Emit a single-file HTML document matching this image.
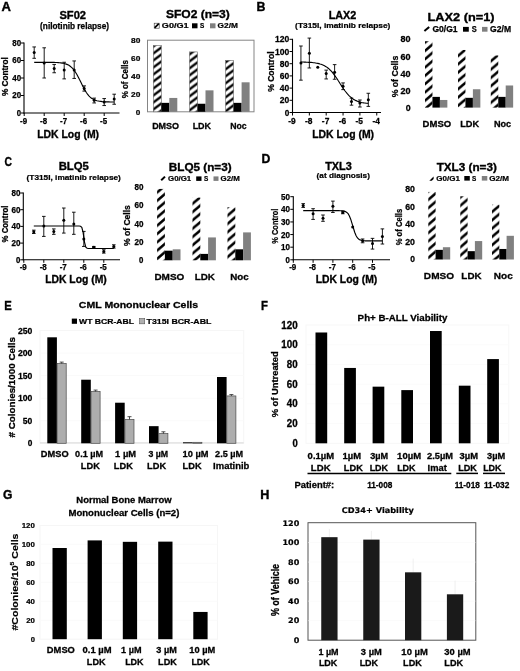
<!DOCTYPE html>
<html><head><meta charset="utf-8"><title>Figure</title>
<style>html,body{margin:0;padding:0;background:#fff}svg{display:block}text{font-family:"Liberation Sans",Arial,sans-serif;font-weight:bold;fill:#000}</style>
</head><body>
<svg width="520" height="671" viewBox="0 0 520 671">
<rect width="520" height="671" fill="#fff"/>
<defs><pattern id="h1" patternUnits="userSpaceOnUse" width="9.333" height="7.000" x="153.3" y="4.5"><rect width="9.333" height="7.000" fill="#fff"/><path d="M-9.33 7.00 L18.67 -14.00 M-9.33 14.00 L18.67 -7.00 M-9.33 21.00 L18.67 0.00 M-9.33 28.00 L18.67 7.00" stroke="#000" stroke-width="2.32"/></pattern><pattern id="hB" patternUnits="userSpaceOnUse" width="9.765" height="8.300" x="425" y="1.0"><rect width="9.765" height="8.300" fill="#fff"/><path d="M-9.76 8.30 L19.53 -16.60 M-9.76 16.60 L19.53 -8.30 M-9.76 24.90 L19.53 0.00 M-9.76 33.20 L19.53 8.30" stroke="#000" stroke-width="2.59"/></pattern><pattern id="hC" patternUnits="userSpaceOnUse" width="9.765" height="8.300" x="157.1" y="1.5"><rect width="9.765" height="8.300" fill="#fff"/><path d="M-9.76 8.30 L19.53 -16.60 M-9.76 16.60 L19.53 -8.30 M-9.76 24.90 L19.53 0.00 M-9.76 33.20 L19.53 8.30" stroke="#000" stroke-width="2.59"/></pattern><pattern id="hD" patternUnits="userSpaceOnUse" width="9.765" height="8.300" x="428.3" y="0.5"><rect width="9.765" height="8.300" fill="#fff"/><path d="M-9.76 8.30 L19.53 -16.60 M-9.76 16.60 L19.53 -8.30 M-9.76 24.90 L19.53 0.00 M-9.76 33.20 L19.53 8.30" stroke="#000" stroke-width="2.59"/></pattern></defs>
<text x="1.40" y="10.70" font-size="13.3" textLength="9.43" lengthAdjust="spacingAndGlyphs" stroke="#000" stroke-width="0.4">A</text>
<text x="59.42" y="19.25" font-size="11.2" textLength="26.66" lengthAdjust="spacingAndGlyphs" stroke="#000" stroke-width="0.34">SF02</text>
<text x="40.12" y="28.90" font-size="8.4" textLength="68.99" lengthAdjust="spacingAndGlyphs" stroke="#000" stroke-width="0.25">(nilotinib relapse)</text>
<text transform="translate(8.20 96.12) rotate(-90)" x="-0.00" y="0" font-size="8.6" textLength="39.00" lengthAdjust="spacingAndGlyphs" stroke="#000" stroke-width="0.26">% Control</text>
<line x1="24.00" y1="42.50" x2="24.00" y2="113.50" stroke="#000" stroke-width="1.1"/>
<line x1="23.50" y1="113.00" x2="119.50" y2="113.00" stroke="#000" stroke-width="1.1"/>
<line x1="21.00" y1="113.00" x2="24.00" y2="113.00" stroke="#000" stroke-width="1"/>
<text x="16.82" y="115.94" font-size="8.2" textLength="4.31" lengthAdjust="spacingAndGlyphs" stroke="#000" stroke-width="0.25">0</text>
<line x1="21.00" y1="95.50" x2="24.00" y2="95.50" stroke="#000" stroke-width="1"/>
<text x="12.27" y="98.44" font-size="8.2" textLength="8.87" lengthAdjust="spacingAndGlyphs" stroke="#000" stroke-width="0.25">20</text>
<line x1="21.00" y1="78.00" x2="24.00" y2="78.00" stroke="#000" stroke-width="1"/>
<text x="12.27" y="80.94" font-size="8.2" textLength="8.87" lengthAdjust="spacingAndGlyphs" stroke="#000" stroke-width="0.25">40</text>
<line x1="21.00" y1="60.50" x2="24.00" y2="60.50" stroke="#000" stroke-width="1"/>
<text x="12.27" y="63.44" font-size="8.2" textLength="8.87" lengthAdjust="spacingAndGlyphs" stroke="#000" stroke-width="0.25">60</text>
<line x1="21.00" y1="43.00" x2="24.00" y2="43.00" stroke="#000" stroke-width="1"/>
<text x="12.27" y="45.94" font-size="8.2" textLength="8.87" lengthAdjust="spacingAndGlyphs" stroke="#000" stroke-width="0.25">80</text>
<line x1="24.20" y1="113.00" x2="24.20" y2="116.00" stroke="#000" stroke-width="1"/>
<text x="20.08" y="124.10" font-size="8.2" textLength="7.04" lengthAdjust="spacingAndGlyphs" stroke="#000" stroke-width="0.25">-9</text>
<line x1="44.20" y1="113.00" x2="44.20" y2="116.00" stroke="#000" stroke-width="1"/>
<text x="40.08" y="124.10" font-size="8.2" textLength="7.04" lengthAdjust="spacingAndGlyphs" stroke="#000" stroke-width="0.25">-8</text>
<line x1="64.20" y1="113.00" x2="64.20" y2="116.00" stroke="#000" stroke-width="1"/>
<text x="60.08" y="124.10" font-size="8.2" textLength="7.04" lengthAdjust="spacingAndGlyphs" stroke="#000" stroke-width="0.25">-7</text>
<line x1="84.20" y1="113.00" x2="84.20" y2="116.00" stroke="#000" stroke-width="1"/>
<text x="80.08" y="124.10" font-size="8.2" textLength="7.04" lengthAdjust="spacingAndGlyphs" stroke="#000" stroke-width="0.25">-6</text>
<line x1="104.20" y1="113.00" x2="104.20" y2="116.00" stroke="#000" stroke-width="1"/>
<text x="100.08" y="124.10" font-size="8.2" textLength="7.04" lengthAdjust="spacingAndGlyphs" stroke="#000" stroke-width="0.25">-5</text>
<path d="M34.2 62.3 L35.5 62.3 L36.9 62.3 L38.2 62.3 L39.5 62.3 L40.9 62.3 L42.2 62.3 L43.5 62.3 L44.9 62.3 L46.2 62.3 L47.5 62.3 L48.9 62.3 L50.2 62.3 L51.5 62.3 L52.9 62.4 L54.2 62.4 L55.5 62.5 L56.9 62.5 L58.2 62.6 L59.5 62.7 L60.9 62.9 L62.2 63.1 L63.5 63.3 L64.9 63.7 L66.2 64.1 L67.5 64.6 L68.9 65.3 L70.2 66.2 L71.5 67.3 L72.9 68.7 L74.2 70.3 L75.5 72.3 L76.9 74.5 L78.2 76.9 L79.5 79.6 L80.9 82.3 L82.2 85.0 L83.5 87.6 L84.9 90.1 L86.2 92.3 L87.5 94.2 L88.9 95.8 L90.2 97.1 L91.5 98.2 L92.9 99.0 L94.2 99.7 L95.5 100.3 L96.9 100.7 L98.2 101.0 L99.5 101.3 L100.9 101.4 L102.2 101.6 L103.5 101.7 L104.9 101.8 L106.2 101.9 L107.5 101.9 L108.9 101.9 L110.2 102.0 L111.5 102.0 L112.9 102.0 L114.2 102.0" fill="none" stroke="#000" stroke-width="1.15"/>
<line x1="34.20" y1="46.94" x2="34.20" y2="58.31" stroke="#000" stroke-width="0.9"/>
<line x1="32.40" y1="46.94" x2="36.00" y2="46.94" stroke="#000" stroke-width="0.9"/>
<line x1="32.40" y1="58.31" x2="36.00" y2="58.31" stroke="#000" stroke-width="0.9"/>
<circle cx="34.20" cy="52.62" r="1.5" fill="#000"/>
<line x1="44.20" y1="47.81" x2="44.20" y2="78.00" stroke="#000" stroke-width="0.9"/>
<line x1="42.40" y1="47.81" x2="46.00" y2="47.81" stroke="#000" stroke-width="0.9"/>
<line x1="42.40" y1="78.00" x2="46.00" y2="78.00" stroke="#000" stroke-width="0.9"/>
<circle cx="44.20" cy="63.12" r="1.5" fill="#000"/>
<line x1="54.20" y1="64.44" x2="54.20" y2="72.75" stroke="#000" stroke-width="0.9"/>
<line x1="52.40" y1="64.44" x2="56.00" y2="64.44" stroke="#000" stroke-width="0.9"/>
<line x1="52.40" y1="72.75" x2="56.00" y2="72.75" stroke="#000" stroke-width="0.9"/>
<circle cx="54.20" cy="68.38" r="1.5" fill="#000"/>
<line x1="64.20" y1="62.25" x2="64.20" y2="78.88" stroke="#000" stroke-width="0.9"/>
<line x1="62.40" y1="62.25" x2="66.00" y2="62.25" stroke="#000" stroke-width="0.9"/>
<line x1="62.40" y1="78.88" x2="66.00" y2="78.88" stroke="#000" stroke-width="0.9"/>
<circle cx="64.20" cy="70.12" r="1.5" fill="#000"/>
<line x1="74.20" y1="60.94" x2="74.20" y2="78.44" stroke="#000" stroke-width="0.9"/>
<line x1="72.40" y1="60.94" x2="76.00" y2="60.94" stroke="#000" stroke-width="0.9"/>
<line x1="72.40" y1="78.44" x2="76.00" y2="78.44" stroke="#000" stroke-width="0.9"/>
<circle cx="74.20" cy="70.12" r="1.5" fill="#000"/>
<line x1="84.20" y1="85.88" x2="84.20" y2="91.12" stroke="#000" stroke-width="0.9"/>
<line x1="82.40" y1="85.88" x2="86.00" y2="85.88" stroke="#000" stroke-width="0.9"/>
<line x1="82.40" y1="91.12" x2="86.00" y2="91.12" stroke="#000" stroke-width="0.9"/>
<circle cx="84.20" cy="88.50" r="1.5" fill="#000"/>
<line x1="94.20" y1="98.12" x2="94.20" y2="102.94" stroke="#000" stroke-width="0.9"/>
<line x1="92.40" y1="98.12" x2="96.00" y2="98.12" stroke="#000" stroke-width="0.9"/>
<line x1="92.40" y1="102.94" x2="96.00" y2="102.94" stroke="#000" stroke-width="0.9"/>
<circle cx="94.20" cy="100.31" r="1.5" fill="#000"/>
<line x1="104.20" y1="98.56" x2="104.20" y2="105.56" stroke="#000" stroke-width="0.9"/>
<line x1="102.40" y1="98.56" x2="106.00" y2="98.56" stroke="#000" stroke-width="0.9"/>
<line x1="102.40" y1="105.56" x2="106.00" y2="105.56" stroke="#000" stroke-width="0.9"/>
<circle cx="104.20" cy="102.06" r="1.5" fill="#000"/>
<line x1="114.20" y1="94.19" x2="114.20" y2="104.25" stroke="#000" stroke-width="0.9"/>
<line x1="112.40" y1="94.19" x2="116.00" y2="94.19" stroke="#000" stroke-width="0.9"/>
<line x1="112.40" y1="104.25" x2="116.00" y2="104.25" stroke="#000" stroke-width="0.9"/>
<circle cx="114.20" cy="99.00" r="1.5" fill="#000"/>
<text x="37.16" y="137.50" font-size="10.8" textLength="61.90" lengthAdjust="spacingAndGlyphs" stroke="#000" stroke-width="0.32">LDK Log (M)</text>
<text x="165.92" y="18.00" font-size="11.5" textLength="63.93" lengthAdjust="spacingAndGlyphs" stroke="#000" stroke-width="0.34">SFO2 (n=3)</text>
<g><rect x="154.2" y="23.2" width="5" height="5" fill="#fff" stroke="#333" stroke-width="0.6"/><path d="M154.6 27.8 L158.8 23.6" stroke="#000" stroke-width="1.8"/></g>
<text x="161.87" y="28.40" font-size="7.9" textLength="26.77" lengthAdjust="spacingAndGlyphs" stroke="#000" stroke-width="0.24">G0/G1</text>
<rect x="192.00" y="23.30" width="5.50" height="5.00" fill="#000"/>
<text x="200.12" y="28.40" font-size="7.9" textLength="4.27" lengthAdjust="spacingAndGlyphs" stroke="#000" stroke-width="0.24">S</text>
<rect x="210.00" y="23.30" width="5.50" height="5.00" fill="#808080"/>
<text x="217.62" y="28.40" font-size="7.9" textLength="20.26" lengthAdjust="spacingAndGlyphs" stroke="#000" stroke-width="0.24">G2/M</text>
<text transform="translate(128.20 98.37) rotate(-90)" x="-0.00" y="0" font-size="8.6" textLength="38.23" lengthAdjust="spacingAndGlyphs" stroke="#000" stroke-width="0.26">% of Cells</text>
<rect x="147.50" y="40.20" width="106.50" height="71.60" fill="none" stroke="#858585" stroke-width="1"/>
<rect x="153.30" y="45.64" width="8.00" height="66.16" fill="url(#h1)" stroke="#666" stroke-width="0.6"/>
<rect x="161.30" y="102.86" width="8.00" height="8.94" fill="#000"/>
<rect x="169.30" y="97.94" width="8.00" height="13.86" fill="#808080"/>
<rect x="189.50" y="51.90" width="8.00" height="59.90" fill="url(#h1)" stroke="#666" stroke-width="0.6"/>
<rect x="197.50" y="103.75" width="8.00" height="8.05" fill="#000"/>
<rect x="205.50" y="90.34" width="8.00" height="21.46" fill="#808080"/>
<rect x="225.60" y="60.39" width="8.00" height="51.41" fill="url(#h1)" stroke="#666" stroke-width="0.6"/>
<rect x="233.60" y="102.86" width="8.00" height="8.94" fill="#000"/>
<rect x="241.60" y="82.30" width="8.00" height="29.50" fill="#808080"/>
<text x="135.85" y="114.59" font-size="7.8" textLength="4.54" lengthAdjust="spacingAndGlyphs" stroke="#000" stroke-width="0.23">0</text>
<text x="131.09" y="96.71" font-size="7.8" textLength="9.31" lengthAdjust="spacingAndGlyphs" stroke="#000" stroke-width="0.23">20</text>
<text x="131.09" y="78.83" font-size="7.8" textLength="9.31" lengthAdjust="spacingAndGlyphs" stroke="#000" stroke-width="0.23">40</text>
<text x="131.09" y="60.95" font-size="7.8" textLength="9.31" lengthAdjust="spacingAndGlyphs" stroke="#000" stroke-width="0.23">60</text>
<text x="131.09" y="43.07" font-size="7.8" textLength="9.31" lengthAdjust="spacingAndGlyphs" stroke="#000" stroke-width="0.23">80</text>
<text x="152.13" y="129.20" font-size="9" textLength="26.98" lengthAdjust="spacingAndGlyphs" stroke="#000" stroke-width="0.27">DMSO</text>
<text x="192.63" y="129.20" font-size="9" textLength="18.48" lengthAdjust="spacingAndGlyphs" stroke="#000" stroke-width="0.27">LDK</text>
<text x="230.13" y="129.20" font-size="9" textLength="16.47" lengthAdjust="spacingAndGlyphs" stroke="#000" stroke-width="0.27">Noc</text>
<text x="256.39" y="10.70" font-size="13" textLength="8.94" lengthAdjust="spacingAndGlyphs" stroke="#000" stroke-width="0.39">B</text>
<text x="328.67" y="18.80" font-size="11.2" textLength="27.67" lengthAdjust="spacingAndGlyphs" stroke="#000" stroke-width="0.34">LAX2</text>
<text x="295.12" y="27.50" font-size="8" textLength="95.24" lengthAdjust="spacingAndGlyphs" stroke="#000" stroke-width="0.24">(T315I, imatinib relapse)</text>
<text transform="translate(274.40 91.87) rotate(-90)" x="-0.00" y="0" font-size="8.6" textLength="40.55" lengthAdjust="spacingAndGlyphs" stroke="#000" stroke-width="0.26">% Control</text>
<line x1="292.50" y1="38.80" x2="292.50" y2="113.00" stroke="#000" stroke-width="1.1"/>
<line x1="292.00" y1="112.50" x2="381.00" y2="112.50" stroke="#000" stroke-width="1.1"/>
<line x1="289.50" y1="112.50" x2="292.50" y2="112.50" stroke="#000" stroke-width="1"/>
<text x="284.70" y="115.61" font-size="8.7" textLength="4.58" lengthAdjust="spacingAndGlyphs" stroke="#000" stroke-width="0.26">0</text>
<line x1="289.50" y1="100.30" x2="292.50" y2="100.30" stroke="#000" stroke-width="1"/>
<text x="279.87" y="103.41" font-size="8.7" textLength="9.42" lengthAdjust="spacingAndGlyphs" stroke="#000" stroke-width="0.26">20</text>
<line x1="289.50" y1="88.10" x2="292.50" y2="88.10" stroke="#000" stroke-width="1"/>
<text x="279.87" y="91.21" font-size="8.7" textLength="9.42" lengthAdjust="spacingAndGlyphs" stroke="#000" stroke-width="0.26">40</text>
<line x1="289.50" y1="75.90" x2="292.50" y2="75.90" stroke="#000" stroke-width="1"/>
<text x="279.87" y="79.01" font-size="8.7" textLength="9.42" lengthAdjust="spacingAndGlyphs" stroke="#000" stroke-width="0.26">60</text>
<line x1="289.50" y1="63.70" x2="292.50" y2="63.70" stroke="#000" stroke-width="1"/>
<text x="279.87" y="66.81" font-size="8.7" textLength="9.42" lengthAdjust="spacingAndGlyphs" stroke="#000" stroke-width="0.26">80</text>
<line x1="289.50" y1="51.50" x2="292.50" y2="51.50" stroke="#000" stroke-width="1"/>
<text x="275.00" y="54.61" font-size="8.7" textLength="14.26" lengthAdjust="spacingAndGlyphs" stroke="#000" stroke-width="0.26">100</text>
<line x1="289.50" y1="39.30" x2="292.50" y2="39.30" stroke="#000" stroke-width="1"/>
<text x="275.00" y="42.41" font-size="8.7" textLength="14.26" lengthAdjust="spacingAndGlyphs" stroke="#000" stroke-width="0.26">120</text>
<line x1="292.50" y1="112.50" x2="292.50" y2="115.50" stroke="#000" stroke-width="1"/>
<text x="288.16" y="124.00" font-size="8.7" textLength="7.48" lengthAdjust="spacingAndGlyphs" stroke="#000" stroke-width="0.26">-9</text>
<line x1="309.35" y1="112.50" x2="309.35" y2="115.50" stroke="#000" stroke-width="1"/>
<text x="305.01" y="124.00" font-size="8.7" textLength="7.48" lengthAdjust="spacingAndGlyphs" stroke="#000" stroke-width="0.26">-8</text>
<line x1="326.20" y1="112.50" x2="326.20" y2="115.50" stroke="#000" stroke-width="1"/>
<text x="321.86" y="124.00" font-size="8.7" textLength="7.48" lengthAdjust="spacingAndGlyphs" stroke="#000" stroke-width="0.26">-7</text>
<line x1="343.05" y1="112.50" x2="343.05" y2="115.50" stroke="#000" stroke-width="1"/>
<text x="338.71" y="124.00" font-size="8.7" textLength="7.48" lengthAdjust="spacingAndGlyphs" stroke="#000" stroke-width="0.26">-6</text>
<line x1="359.90" y1="112.50" x2="359.90" y2="115.50" stroke="#000" stroke-width="1"/>
<text x="355.56" y="124.00" font-size="8.7" textLength="7.48" lengthAdjust="spacingAndGlyphs" stroke="#000" stroke-width="0.26">-5</text>
<line x1="376.75" y1="112.50" x2="376.75" y2="115.50" stroke="#000" stroke-width="1"/>
<text x="372.41" y="124.00" font-size="8.7" textLength="7.48" lengthAdjust="spacingAndGlyphs" stroke="#000" stroke-width="0.26">-4</text>
<path d="M300.9 62.0 L302.0 62.0 L303.2 62.0 L304.3 62.1 L305.4 62.1 L306.5 62.2 L307.7 62.2 L308.8 62.3 L309.9 62.3 L311.0 62.4 L312.2 62.5 L313.3 62.7 L314.4 62.8 L315.5 63.0 L316.7 63.2 L317.8 63.4 L318.9 63.6 L320.0 64.0 L321.1 64.3 L322.3 64.7 L323.4 65.2 L324.5 65.8 L325.6 66.4 L326.8 67.1 L327.9 68.0 L329.0 68.9 L330.1 70.0 L331.3 71.1 L332.4 72.4 L333.5 73.8 L334.6 75.3 L335.7 76.9 L336.9 78.5 L338.0 80.3 L339.1 82.0 L340.2 83.8 L341.4 85.6 L342.5 87.3 L343.6 89.0 L344.7 90.5 L345.9 92.0 L347.0 93.4 L348.1 94.7 L349.2 95.9 L350.4 96.9 L351.5 97.8 L352.6 98.7 L353.7 99.4 L354.8 100.1 L356.0 100.6 L357.1 101.1 L358.2 101.5 L359.3 101.9 L360.5 102.2 L361.6 102.5 L362.7 102.7 L363.8 102.9 L365.0 103.0 L366.1 103.2 L367.2 103.3 L368.3 103.4" fill="none" stroke="#000" stroke-width="1.15"/>
<line x1="300.93" y1="46.01" x2="300.93" y2="80.17" stroke="#000" stroke-width="0.9"/>
<line x1="299.12" y1="46.01" x2="302.73" y2="46.01" stroke="#000" stroke-width="0.9"/>
<line x1="299.12" y1="80.17" x2="302.73" y2="80.17" stroke="#000" stroke-width="0.9"/>
<circle cx="300.93" cy="63.09" r="1.5" fill="#000"/>
<line x1="309.35" y1="38.08" x2="309.35" y2="67.97" stroke="#000" stroke-width="0.9"/>
<line x1="307.55" y1="38.08" x2="311.15" y2="38.08" stroke="#000" stroke-width="0.9"/>
<line x1="307.55" y1="67.97" x2="311.15" y2="67.97" stroke="#000" stroke-width="0.9"/>
<circle cx="309.35" cy="53.33" r="1.5" fill="#000"/>
<circle cx="317.77" cy="67.36" r="1.5" fill="#000"/>
<line x1="326.20" y1="70.11" x2="326.20" y2="78.95" stroke="#000" stroke-width="0.9"/>
<line x1="324.40" y1="70.11" x2="328.00" y2="70.11" stroke="#000" stroke-width="0.9"/>
<line x1="324.40" y1="78.95" x2="328.00" y2="78.95" stroke="#000" stroke-width="0.9"/>
<circle cx="326.20" cy="73.46" r="1.5" fill="#000"/>
<line x1="334.62" y1="64.62" x2="334.62" y2="79.25" stroke="#000" stroke-width="0.9"/>
<line x1="332.82" y1="64.62" x2="336.43" y2="64.62" stroke="#000" stroke-width="0.9"/>
<line x1="332.82" y1="79.25" x2="336.43" y2="79.25" stroke="#000" stroke-width="0.9"/>
<circle cx="334.62" cy="72.24" r="1.5" fill="#000"/>
<line x1="343.05" y1="82.91" x2="343.05" y2="89.62" stroke="#000" stroke-width="0.9"/>
<line x1="341.25" y1="82.91" x2="344.85" y2="82.91" stroke="#000" stroke-width="0.9"/>
<line x1="341.25" y1="89.62" x2="344.85" y2="89.62" stroke="#000" stroke-width="0.9"/>
<circle cx="343.05" cy="86.27" r="1.5" fill="#000"/>
<line x1="351.48" y1="98.17" x2="351.48" y2="105.18" stroke="#000" stroke-width="0.9"/>
<line x1="349.68" y1="98.17" x2="353.28" y2="98.17" stroke="#000" stroke-width="0.9"/>
<line x1="349.68" y1="105.18" x2="353.28" y2="105.18" stroke="#000" stroke-width="0.9"/>
<circle cx="351.48" cy="101.52" r="1.5" fill="#000"/>
<line x1="359.90" y1="100.00" x2="359.90" y2="107.01" stroke="#000" stroke-width="0.9"/>
<line x1="358.10" y1="100.00" x2="361.70" y2="100.00" stroke="#000" stroke-width="0.9"/>
<line x1="358.10" y1="107.01" x2="361.70" y2="107.01" stroke="#000" stroke-width="0.9"/>
<circle cx="359.90" cy="103.05" r="1.5" fill="#000"/>
<line x1="368.32" y1="93.28" x2="368.32" y2="106.40" stroke="#000" stroke-width="0.9"/>
<line x1="366.52" y1="93.28" x2="370.12" y2="93.28" stroke="#000" stroke-width="0.9"/>
<line x1="366.52" y1="106.40" x2="370.12" y2="106.40" stroke="#000" stroke-width="0.9"/>
<circle cx="368.32" cy="99.69" r="1.5" fill="#000"/>
<text x="312.16" y="137.50" font-size="10.8" textLength="61.90" lengthAdjust="spacingAndGlyphs" stroke="#000" stroke-width="0.32">LDK Log (M)</text>
<text x="427.57" y="20.80" font-size="11.8" textLength="67.06" lengthAdjust="spacingAndGlyphs" stroke="#000" stroke-width="0.35">LAX2 (n=1)</text>
<line x1="424.40" y1="31.10" x2="429.20" y2="27.00" stroke="#000" stroke-width="2"/>
<text x="432.43" y="31.70" font-size="8.2" textLength="25.16" lengthAdjust="spacingAndGlyphs" stroke="#000" stroke-width="0.25">G0/G1</text>
<rect x="463.00" y="26.90" width="5.80" height="4.80" fill="#000"/>
<text x="471.82" y="31.70" font-size="8.2" textLength="4.97" lengthAdjust="spacingAndGlyphs" stroke="#000" stroke-width="0.25">S</text>
<rect x="482.00" y="26.90" width="5.50" height="4.80" fill="#808080"/>
<text x="490.12" y="31.70" font-size="8.2" textLength="20.95" lengthAdjust="spacingAndGlyphs" stroke="#000" stroke-width="0.25">G2/M</text>
<text transform="translate(398.00 97.37) rotate(-90)" x="-0.00" y="0" font-size="8.8" textLength="41.63" lengthAdjust="spacingAndGlyphs" stroke="#000" stroke-width="0.26">% of Cells</text>
<rect x="425.00" y="41.23" width="7.45" height="66.37" fill="url(#hB)"/>
<rect x="432.45" y="96.88" width="7.45" height="10.72" fill="#000"/>
<rect x="439.90" y="99.97" width="7.45" height="7.63" fill="#808080"/>
<rect x="458.00" y="49.98" width="7.45" height="57.62" fill="url(#hB)"/>
<rect x="465.45" y="97.82" width="7.45" height="9.78" fill="#000"/>
<rect x="472.90" y="89.25" width="7.45" height="18.35" fill="#808080"/>
<rect x="490.80" y="55.46" width="7.45" height="52.14" fill="url(#hB)"/>
<rect x="498.25" y="96.88" width="7.45" height="10.72" fill="#000"/>
<rect x="505.70" y="85.48" width="7.45" height="22.12" fill="#808080"/>
<text x="405.68" y="111.03" font-size="9.3" textLength="4.89" lengthAdjust="spacingAndGlyphs" stroke="#000" stroke-width="0.28">0</text>
<text x="400.52" y="93.88" font-size="9.3" textLength="10.06" lengthAdjust="spacingAndGlyphs" stroke="#000" stroke-width="0.28">20</text>
<text x="400.52" y="76.73" font-size="9.3" textLength="10.06" lengthAdjust="spacingAndGlyphs" stroke="#000" stroke-width="0.28">40</text>
<text x="400.52" y="59.58" font-size="9.3" textLength="10.06" lengthAdjust="spacingAndGlyphs" stroke="#000" stroke-width="0.28">60</text>
<text x="400.52" y="42.43" font-size="9.3" textLength="10.06" lengthAdjust="spacingAndGlyphs" stroke="#000" stroke-width="0.28">80</text>
<text x="422.64" y="126.75" font-size="9.3" textLength="28.47" lengthAdjust="spacingAndGlyphs" stroke="#000" stroke-width="0.28">DMSO</text>
<text x="460.14" y="126.75" font-size="9.3" textLength="18.97" lengthAdjust="spacingAndGlyphs" stroke="#000" stroke-width="0.28">LDK</text>
<text x="493.89" y="126.75" font-size="9.3" textLength="17.21" lengthAdjust="spacingAndGlyphs" stroke="#000" stroke-width="0.28">Noc</text>
<text x="4.40" y="166.40" font-size="13" textLength="7.43" lengthAdjust="spacingAndGlyphs" stroke="#000" stroke-width="0.39">C</text>
<text x="58.67" y="170.00" font-size="11.2" textLength="30.18" lengthAdjust="spacingAndGlyphs" stroke="#000" stroke-width="0.34">BLQ5</text>
<text x="26.62" y="180.00" font-size="8" textLength="94.24" lengthAdjust="spacingAndGlyphs" stroke="#000" stroke-width="0.24">(T315I, imatinib relapse)</text>
<text transform="translate(8.40 242.47) rotate(-90)" x="-0.00" y="0" font-size="8.8" textLength="36.85" lengthAdjust="spacingAndGlyphs" stroke="#000" stroke-width="0.26">% Control</text>
<line x1="23.30" y1="192.50" x2="23.30" y2="260.30" stroke="#000" stroke-width="1.1"/>
<line x1="22.80" y1="259.80" x2="120.00" y2="259.80" stroke="#000" stroke-width="1.1"/>
<line x1="20.30" y1="259.80" x2="23.30" y2="259.80" stroke="#000" stroke-width="1"/>
<text x="16.02" y="262.77" font-size="8.3" textLength="4.37" lengthAdjust="spacingAndGlyphs" stroke="#000" stroke-width="0.25">0</text>
<line x1="20.30" y1="243.10" x2="23.30" y2="243.10" stroke="#000" stroke-width="1"/>
<text x="11.41" y="246.07" font-size="8.3" textLength="8.98" lengthAdjust="spacingAndGlyphs" stroke="#000" stroke-width="0.25">20</text>
<line x1="20.30" y1="226.40" x2="23.30" y2="226.40" stroke="#000" stroke-width="1"/>
<text x="11.41" y="229.37" font-size="8.3" textLength="8.98" lengthAdjust="spacingAndGlyphs" stroke="#000" stroke-width="0.25">40</text>
<line x1="20.30" y1="209.70" x2="23.30" y2="209.70" stroke="#000" stroke-width="1"/>
<text x="11.41" y="212.67" font-size="8.3" textLength="8.98" lengthAdjust="spacingAndGlyphs" stroke="#000" stroke-width="0.25">60</text>
<line x1="20.30" y1="193.00" x2="23.30" y2="193.00" stroke="#000" stroke-width="1"/>
<text x="11.41" y="195.97" font-size="8.3" textLength="8.98" lengthAdjust="spacingAndGlyphs" stroke="#000" stroke-width="0.25">80</text>
<line x1="23.80" y1="259.80" x2="23.80" y2="262.80" stroke="#000" stroke-width="1"/>
<text x="19.63" y="270.10" font-size="8.3" textLength="7.13" lengthAdjust="spacingAndGlyphs" stroke="#000" stroke-width="0.25">-9</text>
<line x1="43.80" y1="259.80" x2="43.80" y2="262.80" stroke="#000" stroke-width="1"/>
<text x="39.63" y="270.10" font-size="8.3" textLength="7.13" lengthAdjust="spacingAndGlyphs" stroke="#000" stroke-width="0.25">-8</text>
<line x1="63.80" y1="259.80" x2="63.80" y2="262.80" stroke="#000" stroke-width="1"/>
<text x="59.63" y="270.10" font-size="8.3" textLength="7.13" lengthAdjust="spacingAndGlyphs" stroke="#000" stroke-width="0.25">-7</text>
<line x1="83.80" y1="259.80" x2="83.80" y2="262.80" stroke="#000" stroke-width="1"/>
<text x="79.63" y="270.10" font-size="8.3" textLength="7.13" lengthAdjust="spacingAndGlyphs" stroke="#000" stroke-width="0.25">-6</text>
<line x1="103.80" y1="259.80" x2="103.80" y2="262.80" stroke="#000" stroke-width="1"/>
<text x="99.63" y="270.10" font-size="8.3" textLength="7.13" lengthAdjust="spacingAndGlyphs" stroke="#000" stroke-width="0.25">-5</text>
<path d="M33.8 226.0 L35.1 226.0 L36.5 226.0 L37.8 226.0 L39.1 226.0 L40.5 226.0 L41.8 226.0 L43.1 226.0 L44.5 226.0 L45.8 226.0 L47.1 226.0 L48.5 226.0 L49.8 226.0 L51.1 226.0 L52.5 226.0 L53.8 226.0 L55.1 226.0 L56.5 226.0 L57.8 226.0 L59.1 226.0 L60.5 226.0 L61.8 226.0 L63.1 226.0 L64.5 226.0 L65.8 226.0 L67.1 226.0 L68.5 226.0 L69.8 226.0 L71.1 226.0 L72.5 226.0 L73.8 226.0 L75.1 226.0 L76.5 226.0 L77.8 226.0 L79.1 226.0 L80.5 226.2 L81.8 227.3 L83.1 232.4 L84.5 242.1 L85.8 247.2 L87.1 248.3 L88.5 248.5 L89.8 248.5 L91.1 248.5 L92.5 248.5 L93.8 248.5 L95.1 248.5 L96.5 248.5 L97.8 248.5 L99.1 248.5 L100.5 248.5 L101.8 248.5 L103.1 248.5 L104.5 248.5 L105.8 248.5 L107.1 248.5 L108.5 248.5 L109.8 248.5 L111.1 248.5 L112.5 248.5 L113.8 248.5" fill="none" stroke="#000" stroke-width="1.15"/>
<line x1="33.80" y1="230.16" x2="33.80" y2="233.50" stroke="#000" stroke-width="0.9"/>
<line x1="32.00" y1="230.16" x2="35.60" y2="230.16" stroke="#000" stroke-width="0.9"/>
<line x1="32.00" y1="233.50" x2="35.60" y2="233.50" stroke="#000" stroke-width="0.9"/>
<circle cx="33.80" cy="231.83" r="1.5" fill="#000"/>
<line x1="43.80" y1="216.38" x2="43.80" y2="236.42" stroke="#000" stroke-width="0.9"/>
<line x1="42.00" y1="216.38" x2="45.60" y2="216.38" stroke="#000" stroke-width="0.9"/>
<line x1="42.00" y1="236.42" x2="45.60" y2="236.42" stroke="#000" stroke-width="0.9"/>
<circle cx="43.80" cy="225.98" r="1.5" fill="#000"/>
<line x1="53.80" y1="228.91" x2="53.80" y2="234.33" stroke="#000" stroke-width="0.9"/>
<line x1="52.00" y1="228.91" x2="55.60" y2="228.91" stroke="#000" stroke-width="0.9"/>
<line x1="52.00" y1="234.33" x2="55.60" y2="234.33" stroke="#000" stroke-width="0.9"/>
<circle cx="53.80" cy="231.41" r="1.5" fill="#000"/>
<line x1="63.80" y1="208.03" x2="63.80" y2="233.08" stroke="#000" stroke-width="0.9"/>
<line x1="62.00" y1="208.03" x2="65.60" y2="208.03" stroke="#000" stroke-width="0.9"/>
<line x1="62.00" y1="233.08" x2="65.60" y2="233.08" stroke="#000" stroke-width="0.9"/>
<circle cx="63.80" cy="220.14" r="1.5" fill="#000"/>
<line x1="73.80" y1="212.21" x2="73.80" y2="234.33" stroke="#000" stroke-width="0.9"/>
<line x1="72.00" y1="212.21" x2="75.60" y2="212.21" stroke="#000" stroke-width="0.9"/>
<line x1="72.00" y1="234.33" x2="75.60" y2="234.33" stroke="#000" stroke-width="0.9"/>
<circle cx="73.80" cy="223.90" r="1.5" fill="#000"/>
<line x1="83.80" y1="231.41" x2="83.80" y2="246.44" stroke="#000" stroke-width="0.9"/>
<line x1="82.00" y1="231.41" x2="85.60" y2="231.41" stroke="#000" stroke-width="0.9"/>
<line x1="82.00" y1="246.44" x2="85.60" y2="246.44" stroke="#000" stroke-width="0.9"/>
<circle cx="83.80" cy="238.93" r="1.5" fill="#000"/>
<line x1="93.80" y1="246.44" x2="93.80" y2="248.11" stroke="#000" stroke-width="0.9"/>
<line x1="92.00" y1="246.44" x2="95.60" y2="246.44" stroke="#000" stroke-width="0.9"/>
<line x1="92.00" y1="248.11" x2="95.60" y2="248.11" stroke="#000" stroke-width="0.9"/>
<circle cx="93.80" cy="247.28" r="1.5" fill="#000"/>
<line x1="103.80" y1="249.78" x2="103.80" y2="253.12" stroke="#000" stroke-width="0.9"/>
<line x1="102.00" y1="249.78" x2="105.60" y2="249.78" stroke="#000" stroke-width="0.9"/>
<line x1="102.00" y1="253.12" x2="105.60" y2="253.12" stroke="#000" stroke-width="0.9"/>
<circle cx="103.80" cy="251.45" r="1.5" fill="#000"/>
<line x1="113.80" y1="244.77" x2="113.80" y2="248.11" stroke="#000" stroke-width="0.9"/>
<line x1="112.00" y1="244.77" x2="115.60" y2="244.77" stroke="#000" stroke-width="0.9"/>
<line x1="112.00" y1="248.11" x2="115.60" y2="248.11" stroke="#000" stroke-width="0.9"/>
<circle cx="113.80" cy="246.44" r="1.5" fill="#000"/>
<text x="45.16" y="282.50" font-size="10.6" textLength="61.65" lengthAdjust="spacingAndGlyphs" stroke="#000" stroke-width="0.32">LDK Log (M)</text>
<text x="168.77" y="171.40" font-size="11.5" textLength="62.88" lengthAdjust="spacingAndGlyphs" stroke="#000" stroke-width="0.34">BLQ5 (n=3)</text>
<line x1="161.20" y1="180.30" x2="165.00" y2="176.60" stroke="#000" stroke-width="2"/>
<text x="168.02" y="180.80" font-size="7.8" textLength="23.18" lengthAdjust="spacingAndGlyphs" stroke="#000" stroke-width="0.23">G0/G1</text>
<rect x="196.20" y="176.40" width="5.30" height="4.50" fill="#000"/>
<text x="203.92" y="180.80" font-size="7.8" textLength="4.28" lengthAdjust="spacingAndGlyphs" stroke="#000" stroke-width="0.23">S</text>
<rect x="213.50" y="176.40" width="5.00" height="4.50" fill="#808080"/>
<text x="220.62" y="180.80" font-size="7.8" textLength="19.27" lengthAdjust="spacingAndGlyphs" stroke="#000" stroke-width="0.23">G2/M</text>
<text transform="translate(130.00 246.07) rotate(-90)" x="-0.00" y="0" font-size="8.8" textLength="40.93" lengthAdjust="spacingAndGlyphs" stroke="#000" stroke-width="0.26">% of Cells</text>
<rect x="157.10" y="188.93" width="7.80" height="71.37" fill="url(#hC)"/>
<rect x="164.90" y="250.69" width="7.80" height="9.61" fill="#000"/>
<rect x="172.70" y="249.32" width="7.80" height="10.98" fill="#808080"/>
<rect x="192.50" y="197.62" width="7.80" height="62.68" fill="url(#hC)"/>
<rect x="200.30" y="253.90" width="7.80" height="6.41" fill="#000"/>
<rect x="208.10" y="237.43" width="7.80" height="22.88" fill="#808080"/>
<rect x="227.50" y="207.23" width="7.80" height="53.07" fill="url(#hC)"/>
<rect x="235.30" y="249.32" width="7.80" height="10.98" fill="#000"/>
<rect x="243.10" y="232.39" width="7.80" height="27.91" fill="#808080"/>
<text x="139.02" y="263.37" font-size="8.3" textLength="4.37" lengthAdjust="spacingAndGlyphs" stroke="#000" stroke-width="0.25">0</text>
<text x="134.41" y="244.99" font-size="8.3" textLength="8.98" lengthAdjust="spacingAndGlyphs" stroke="#000" stroke-width="0.25">20</text>
<text x="134.41" y="226.61" font-size="8.3" textLength="8.98" lengthAdjust="spacingAndGlyphs" stroke="#000" stroke-width="0.25">40</text>
<text x="134.41" y="208.23" font-size="8.3" textLength="8.98" lengthAdjust="spacingAndGlyphs" stroke="#000" stroke-width="0.25">60</text>
<text x="134.41" y="189.85" font-size="8.3" textLength="8.98" lengthAdjust="spacingAndGlyphs" stroke="#000" stroke-width="0.25">80</text>
<text x="154.40" y="279.60" font-size="9.8" textLength="29.96" lengthAdjust="spacingAndGlyphs" stroke="#000" stroke-width="0.29">DMSO</text>
<text x="194.65" y="279.60" font-size="9.8" textLength="20.21" lengthAdjust="spacingAndGlyphs" stroke="#000" stroke-width="0.29">LDK</text>
<text x="230.15" y="279.60" font-size="9.8" textLength="18.45" lengthAdjust="spacingAndGlyphs" stroke="#000" stroke-width="0.29">Noc</text>
<text x="261.50" y="163.00" font-size="13" textLength="8.84" lengthAdjust="spacingAndGlyphs" stroke="#000" stroke-width="0.39">D</text>
<text x="325.17" y="170.00" font-size="11.2" textLength="26.66" lengthAdjust="spacingAndGlyphs" stroke="#000" stroke-width="0.34">TXL3</text>
<text x="316.62" y="178.00" font-size="8" textLength="53.27" lengthAdjust="spacingAndGlyphs" stroke="#000" stroke-width="0.24">(at diagnosis)</text>
<text transform="translate(278.00 243.67) rotate(-90)" x="-0.00" y="0" font-size="8.8" textLength="35.05" lengthAdjust="spacingAndGlyphs" stroke="#000" stroke-width="0.26">% Control</text>
<line x1="293.30" y1="196.20" x2="293.30" y2="260.30" stroke="#000" stroke-width="1.1"/>
<line x1="292.80" y1="259.80" x2="390.00" y2="259.80" stroke="#000" stroke-width="1.1"/>
<line x1="290.30" y1="259.80" x2="293.30" y2="259.80" stroke="#000" stroke-width="1"/>
<text x="285.52" y="262.77" font-size="8.3" textLength="4.37" lengthAdjust="spacingAndGlyphs" stroke="#000" stroke-width="0.25">0</text>
<line x1="290.30" y1="247.18" x2="293.30" y2="247.18" stroke="#000" stroke-width="1"/>
<text x="280.91" y="250.15" font-size="8.3" textLength="8.98" lengthAdjust="spacingAndGlyphs" stroke="#000" stroke-width="0.25">10</text>
<line x1="290.30" y1="234.56" x2="293.30" y2="234.56" stroke="#000" stroke-width="1"/>
<text x="280.91" y="237.53" font-size="8.3" textLength="8.98" lengthAdjust="spacingAndGlyphs" stroke="#000" stroke-width="0.25">20</text>
<line x1="290.30" y1="221.94" x2="293.30" y2="221.94" stroke="#000" stroke-width="1"/>
<text x="280.91" y="224.91" font-size="8.3" textLength="8.98" lengthAdjust="spacingAndGlyphs" stroke="#000" stroke-width="0.25">30</text>
<line x1="290.30" y1="209.32" x2="293.30" y2="209.32" stroke="#000" stroke-width="1"/>
<text x="280.91" y="212.29" font-size="8.3" textLength="8.98" lengthAdjust="spacingAndGlyphs" stroke="#000" stroke-width="0.25">40</text>
<line x1="290.30" y1="196.70" x2="293.30" y2="196.70" stroke="#000" stroke-width="1"/>
<text x="280.91" y="199.67" font-size="8.3" textLength="8.98" lengthAdjust="spacingAndGlyphs" stroke="#000" stroke-width="0.25">50</text>
<line x1="293.30" y1="259.80" x2="293.30" y2="262.80" stroke="#000" stroke-width="1"/>
<text x="289.13" y="270.10" font-size="8.3" textLength="7.13" lengthAdjust="spacingAndGlyphs" stroke="#000" stroke-width="0.25">-9</text>
<line x1="313.10" y1="259.80" x2="313.10" y2="262.80" stroke="#000" stroke-width="1"/>
<text x="308.93" y="270.10" font-size="8.3" textLength="7.13" lengthAdjust="spacingAndGlyphs" stroke="#000" stroke-width="0.25">-8</text>
<line x1="332.90" y1="259.80" x2="332.90" y2="262.80" stroke="#000" stroke-width="1"/>
<text x="328.73" y="270.10" font-size="8.3" textLength="7.13" lengthAdjust="spacingAndGlyphs" stroke="#000" stroke-width="0.25">-7</text>
<line x1="352.70" y1="259.80" x2="352.70" y2="262.80" stroke="#000" stroke-width="1"/>
<text x="348.53" y="270.10" font-size="8.3" textLength="7.13" lengthAdjust="spacingAndGlyphs" stroke="#000" stroke-width="0.25">-6</text>
<line x1="372.50" y1="259.80" x2="372.50" y2="262.80" stroke="#000" stroke-width="1"/>
<text x="368.33" y="270.10" font-size="8.3" textLength="7.13" lengthAdjust="spacingAndGlyphs" stroke="#000" stroke-width="0.25">-5</text>
<path d="M303.2 210.6 L304.5 210.6 L305.8 210.6 L307.2 210.6 L308.5 210.6 L309.8 210.6 L311.1 210.6 L312.4 210.6 L313.8 210.6 L315.1 210.6 L316.4 210.6 L317.7 210.6 L319.0 210.6 L320.4 210.6 L321.7 210.6 L323.0 210.6 L324.3 210.6 L325.6 210.6 L327.0 210.6 L328.3 210.6 L329.6 210.6 L330.9 210.6 L332.2 210.6 L333.6 210.6 L334.9 210.6 L336.2 210.6 L337.5 210.6 L338.8 210.6 L340.2 210.7 L341.5 210.7 L342.8 210.9 L344.1 211.1 L345.4 211.6 L346.8 212.4 L348.1 213.7 L349.4 216.0 L350.7 219.2 L352.0 223.4 L353.4 228.0 L354.7 232.2 L356.0 235.5 L357.3 237.7 L358.6 239.1 L360.0 239.9 L361.3 240.3 L362.6 240.6 L363.9 240.7 L365.2 240.8 L366.6 240.8 L367.9 240.8 L369.2 240.9 L370.5 240.9 L371.8 240.9 L373.2 240.9 L374.5 240.9 L375.8 240.9 L377.1 240.9 L378.4 240.9 L379.8 240.9 L381.1 240.9 L382.4 240.9" fill="none" stroke="#000" stroke-width="1.15"/>
<line x1="303.20" y1="203.64" x2="303.20" y2="207.43" stroke="#000" stroke-width="0.9"/>
<line x1="301.40" y1="203.64" x2="305.00" y2="203.64" stroke="#000" stroke-width="0.9"/>
<line x1="301.40" y1="207.43" x2="305.00" y2="207.43" stroke="#000" stroke-width="0.9"/>
<circle cx="303.20" cy="205.53" r="1.5" fill="#000"/>
<line x1="313.10" y1="208.69" x2="313.10" y2="219.42" stroke="#000" stroke-width="0.9"/>
<line x1="311.30" y1="208.69" x2="314.90" y2="208.69" stroke="#000" stroke-width="0.9"/>
<line x1="311.30" y1="219.42" x2="314.90" y2="219.42" stroke="#000" stroke-width="0.9"/>
<circle cx="313.10" cy="213.74" r="1.5" fill="#000"/>
<line x1="323.00" y1="215.00" x2="323.00" y2="221.31" stroke="#000" stroke-width="0.9"/>
<line x1="321.20" y1="215.00" x2="324.80" y2="215.00" stroke="#000" stroke-width="0.9"/>
<line x1="321.20" y1="221.31" x2="324.80" y2="221.31" stroke="#000" stroke-width="0.9"/>
<circle cx="323.00" cy="218.15" r="1.5" fill="#000"/>
<line x1="332.90" y1="201.12" x2="332.90" y2="212.48" stroke="#000" stroke-width="0.9"/>
<line x1="331.10" y1="201.12" x2="334.70" y2="201.12" stroke="#000" stroke-width="0.9"/>
<line x1="331.10" y1="212.48" x2="334.70" y2="212.48" stroke="#000" stroke-width="0.9"/>
<circle cx="332.90" cy="206.17" r="1.5" fill="#000"/>
<line x1="342.80" y1="211.21" x2="342.80" y2="213.74" stroke="#000" stroke-width="0.9"/>
<line x1="341.00" y1="211.21" x2="344.60" y2="211.21" stroke="#000" stroke-width="0.9"/>
<line x1="341.00" y1="213.74" x2="344.60" y2="213.74" stroke="#000" stroke-width="0.9"/>
<circle cx="342.80" cy="212.48" r="1.5" fill="#000"/>
<circle cx="352.70" cy="226.99" r="1.5" fill="#000"/>
<line x1="362.60" y1="238.98" x2="362.60" y2="242.76" stroke="#000" stroke-width="0.9"/>
<line x1="360.80" y1="238.98" x2="364.40" y2="238.98" stroke="#000" stroke-width="0.9"/>
<line x1="360.80" y1="242.76" x2="364.40" y2="242.76" stroke="#000" stroke-width="0.9"/>
<circle cx="362.60" cy="240.87" r="1.5" fill="#000"/>
<line x1="372.50" y1="238.35" x2="372.50" y2="249.07" stroke="#000" stroke-width="0.9"/>
<line x1="370.70" y1="238.35" x2="374.30" y2="238.35" stroke="#000" stroke-width="0.9"/>
<line x1="370.70" y1="249.07" x2="374.30" y2="249.07" stroke="#000" stroke-width="0.9"/>
<circle cx="372.50" cy="243.39" r="1.5" fill="#000"/>
<line x1="382.40" y1="228.88" x2="382.40" y2="244.03" stroke="#000" stroke-width="0.9"/>
<line x1="380.60" y1="228.88" x2="384.20" y2="228.88" stroke="#000" stroke-width="0.9"/>
<line x1="380.60" y1="244.03" x2="384.20" y2="244.03" stroke="#000" stroke-width="0.9"/>
<circle cx="382.40" cy="236.45" r="1.5" fill="#000"/>
<text x="315.66" y="282.50" font-size="10.6" textLength="61.65" lengthAdjust="spacingAndGlyphs" stroke="#000" stroke-width="0.32">LDK Log (M)</text>
<text x="436.67" y="170.80" font-size="11.5" textLength="60.16" lengthAdjust="spacingAndGlyphs" stroke="#000" stroke-width="0.34">TXL3 (n=3)</text>
<path d="M429.3 180.7 L433.6 176.4 L433.6 178.9 L431.8 180.7 Z" fill="#000"/>
<text x="436.32" y="180.50" font-size="8.1" textLength="23.57" lengthAdjust="spacingAndGlyphs" stroke="#000" stroke-width="0.24">G0/G1</text>
<rect x="464.30" y="176.00" width="5.50" height="4.60" fill="#000"/>
<text x="471.92" y="180.50" font-size="8.1" textLength="4.27" lengthAdjust="spacingAndGlyphs" stroke="#000" stroke-width="0.24">S</text>
<rect x="481.80" y="176.00" width="5.50" height="4.60" fill="#808080"/>
<text x="489.32" y="180.50" font-size="8.1" textLength="19.76" lengthAdjust="spacingAndGlyphs" stroke="#000" stroke-width="0.24">G2/M</text>
<text transform="translate(401.60 245.37) rotate(-90)" x="-0.00" y="0" font-size="8.6" textLength="36.63" lengthAdjust="spacingAndGlyphs" stroke="#000" stroke-width="0.26">% of Cells</text>
<rect x="428.30" y="191.93" width="7.30" height="67.57" fill="url(#hD)"/>
<rect x="435.60" y="249.85" width="7.30" height="9.65" fill="#000"/>
<rect x="442.90" y="247.22" width="7.30" height="12.29" fill="#808080"/>
<rect x="460.30" y="196.32" width="7.30" height="63.18" fill="url(#hD)"/>
<rect x="467.60" y="251.16" width="7.30" height="8.34" fill="#000"/>
<rect x="474.90" y="241.07" width="7.30" height="18.43" fill="#808080"/>
<rect x="492.00" y="204.66" width="7.30" height="54.84" fill="url(#hD)"/>
<rect x="499.30" y="248.97" width="7.30" height="10.53" fill="#000"/>
<rect x="506.60" y="235.81" width="7.30" height="23.69" fill="#808080"/>
<text x="410.14" y="262.42" font-size="9" textLength="4.73" lengthAdjust="spacingAndGlyphs" stroke="#000" stroke-width="0.27">0</text>
<text x="405.14" y="244.87" font-size="9" textLength="9.74" lengthAdjust="spacingAndGlyphs" stroke="#000" stroke-width="0.27">20</text>
<text x="405.14" y="227.32" font-size="9" textLength="9.74" lengthAdjust="spacingAndGlyphs" stroke="#000" stroke-width="0.27">40</text>
<text x="405.14" y="209.77" font-size="9" textLength="9.74" lengthAdjust="spacingAndGlyphs" stroke="#000" stroke-width="0.27">60</text>
<text x="405.14" y="192.22" font-size="9" textLength="9.74" lengthAdjust="spacingAndGlyphs" stroke="#000" stroke-width="0.27">80</text>
<text x="423.89" y="278.80" font-size="9.8" textLength="30.21" lengthAdjust="spacingAndGlyphs" stroke="#000" stroke-width="0.29">DMSO</text>
<text x="461.39" y="278.80" font-size="9.8" textLength="20.21" lengthAdjust="spacingAndGlyphs" stroke="#000" stroke-width="0.29">LDK</text>
<text x="493.89" y="278.80" font-size="9.8" textLength="18.95" lengthAdjust="spacingAndGlyphs" stroke="#000" stroke-width="0.29">Noc</text>
<text x="4.30" y="310.40" font-size="13.5" textLength="7.52" lengthAdjust="spacingAndGlyphs" stroke="#000" stroke-width="0.4">E</text>
<text x="78.84" y="307.50" font-size="9.8" textLength="119.33" lengthAdjust="spacingAndGlyphs" stroke="#000" stroke-width="0.29">CML Mononuclear Cells</text>
<rect x="71.80" y="318.60" width="5.20" height="5.20" fill="#000"/>
<text x="79.12" y="324.00" font-size="8" textLength="54.78" lengthAdjust="spacingAndGlyphs" stroke="#000" stroke-width="0.24">WT BCR-ABL</text>
<rect x="139.50" y="318.60" width="5.20" height="5.20" fill="#b0b0b0" stroke="#555" stroke-width="0.6"/>
<text x="146.62" y="324.00" font-size="8" textLength="64.76" lengthAdjust="spacingAndGlyphs" stroke="#000" stroke-width="0.24">T315I BCR-ABL</text>
<rect x="40.00" y="330.50" width="203.70" height="112.80" fill="none" stroke="#f6f6f6" stroke-width="1"/>
<line x1="40.00" y1="420.75" x2="243.70" y2="420.75" stroke="#fafafa" stroke-width="1"/>
<line x1="40.00" y1="398.20" x2="243.70" y2="398.20" stroke="#fafafa" stroke-width="1"/>
<line x1="40.00" y1="375.65" x2="243.70" y2="375.65" stroke="#fafafa" stroke-width="1"/>
<line x1="40.00" y1="353.10" x2="243.70" y2="353.10" stroke="#fafafa" stroke-width="1"/>
<line x1="40.00" y1="442.90" x2="243.70" y2="442.90" stroke="#d8d8d8" stroke-width="1"/>
<text x="27.75" y="446.40" font-size="8.8" textLength="4.63" lengthAdjust="spacingAndGlyphs" stroke="#000" stroke-width="0.26">0</text>
<text x="22.86" y="423.85" font-size="8.8" textLength="9.53" lengthAdjust="spacingAndGlyphs" stroke="#000" stroke-width="0.26">50</text>
<text x="17.93" y="401.30" font-size="8.8" textLength="14.42" lengthAdjust="spacingAndGlyphs" stroke="#000" stroke-width="0.26">100</text>
<text x="17.93" y="378.75" font-size="8.8" textLength="14.42" lengthAdjust="spacingAndGlyphs" stroke="#000" stroke-width="0.26">150</text>
<text x="17.93" y="356.20" font-size="8.8" textLength="14.42" lengthAdjust="spacingAndGlyphs" stroke="#000" stroke-width="0.26">200</text>
<text x="17.93" y="333.65" font-size="8.8" textLength="14.42" lengthAdjust="spacingAndGlyphs" stroke="#000" stroke-width="0.26">250</text>
<text transform="translate(14.60 437.56) rotate(-90)" x="-0.00" y="0" font-size="9.5" textLength="100.44" lengthAdjust="spacingAndGlyphs" stroke="#000" stroke-width="0.28"># Colonies/1000 Cells</text>
<rect x="47.30" y="337.31" width="9.60" height="105.98" fill="#000"/>
<rect x="57.10" y="363.47" width="9.10" height="79.83" fill="#adadad" stroke="#4a4a4a" stroke-width="0.7"/>
<line x1="61.70" y1="362.12" x2="61.70" y2="363.47" stroke="#222" stroke-width="0.8"/>
<line x1="59.70" y1="362.12" x2="63.70" y2="362.12" stroke="#222" stroke-width="0.8"/>
<rect x="81.20" y="379.71" width="9.60" height="63.59" fill="#000"/>
<rect x="91.00" y="391.44" width="9.10" height="51.87" fill="#adadad" stroke="#4a4a4a" stroke-width="0.7"/>
<line x1="95.60" y1="390.08" x2="95.60" y2="391.44" stroke="#222" stroke-width="0.8"/>
<line x1="93.60" y1="390.08" x2="97.60" y2="390.08" stroke="#222" stroke-width="0.8"/>
<rect x="115.10" y="402.71" width="9.60" height="40.59" fill="#000"/>
<rect x="124.90" y="419.40" width="9.10" height="23.90" fill="#adadad" stroke="#4a4a4a" stroke-width="0.7"/>
<line x1="129.50" y1="416.69" x2="129.50" y2="419.40" stroke="#222" stroke-width="0.8"/>
<line x1="127.50" y1="416.69" x2="131.50" y2="416.69" stroke="#222" stroke-width="0.8"/>
<rect x="149.00" y="426.16" width="9.60" height="17.14" fill="#000"/>
<rect x="158.80" y="433.60" width="9.10" height="9.70" fill="#adadad" stroke="#4a4a4a" stroke-width="0.7"/>
<line x1="163.40" y1="431.80" x2="163.40" y2="433.60" stroke="#222" stroke-width="0.8"/>
<line x1="161.40" y1="431.80" x2="165.40" y2="431.80" stroke="#222" stroke-width="0.8"/>
<rect x="183.00" y="442.31" width="9.60" height="0.99" fill="#000"/>
<rect x="192.80" y="442.31" width="9.10" height="0.99" fill="#adadad" stroke="#4a4a4a" stroke-width="0.7"/>
<rect x="217.00" y="377.00" width="9.60" height="66.30" fill="#000"/>
<rect x="226.80" y="395.94" width="9.10" height="47.36" fill="#adadad" stroke="#4a4a4a" stroke-width="0.7"/>
<line x1="231.40" y1="394.59" x2="231.40" y2="395.94" stroke="#222" stroke-width="0.8"/>
<line x1="229.40" y1="394.59" x2="233.40" y2="394.59" stroke="#222" stroke-width="0.8"/>
<text x="40.88" y="457.20" font-size="9" textLength="27.73" lengthAdjust="spacingAndGlyphs" stroke="#000" stroke-width="0.27">DMSO</text>
<text x="75.14" y="457.20" font-size="9" textLength="28.00" lengthAdjust="spacingAndGlyphs" stroke="#000" stroke-width="0.27">0.1 µM</text>
<text x="115.14" y="457.20" font-size="9" textLength="20.96" lengthAdjust="spacingAndGlyphs" stroke="#000" stroke-width="0.27">1 µM</text>
<text x="148.38" y="457.20" font-size="9" textLength="19.71" lengthAdjust="spacingAndGlyphs" stroke="#000" stroke-width="0.27">3 µM</text>
<text x="182.63" y="457.20" font-size="9" textLength="25.97" lengthAdjust="spacingAndGlyphs" stroke="#000" stroke-width="0.27">10 µM</text>
<text x="215.13" y="457.20" font-size="9" textLength="28.00" lengthAdjust="spacingAndGlyphs" stroke="#000" stroke-width="0.27">2.5 µM</text>
<text x="80.89" y="468.50" font-size="9" textLength="18.98" lengthAdjust="spacingAndGlyphs" stroke="#000" stroke-width="0.27">LDK</text>
<text x="113.89" y="468.50" font-size="9" textLength="18.98" lengthAdjust="spacingAndGlyphs" stroke="#000" stroke-width="0.27">LDK</text>
<text x="147.13" y="468.50" font-size="9" textLength="18.98" lengthAdjust="spacingAndGlyphs" stroke="#000" stroke-width="0.27">LDK</text>
<text x="182.63" y="468.50" font-size="9" textLength="18.98" lengthAdjust="spacingAndGlyphs" stroke="#000" stroke-width="0.27">LDK</text>
<text x="213.13" y="468.50" font-size="9" textLength="36.22" lengthAdjust="spacingAndGlyphs" stroke="#000" stroke-width="0.27">Imatinib</text>
<text x="260.89" y="310.00" font-size="13" textLength="6.92" lengthAdjust="spacingAndGlyphs" stroke="#000" stroke-width="0.39">F</text>
<text x="357.63" y="320.80" font-size="9" textLength="89.83" lengthAdjust="spacingAndGlyphs" stroke="#000" stroke-width="0.27">Ph+ B-ALL Viability</text>
<rect x="306.00" y="325.00" width="202.80" height="118.30" fill="none" stroke="#f7f7f7" stroke-width="1"/>
<line x1="306.00" y1="423.60" x2="508.80" y2="423.60" stroke="#fbfbfb" stroke-width="1"/>
<line x1="306.00" y1="403.90" x2="508.80" y2="403.90" stroke="#fbfbfb" stroke-width="1"/>
<line x1="306.00" y1="384.20" x2="508.80" y2="384.20" stroke="#fbfbfb" stroke-width="1"/>
<line x1="306.00" y1="364.50" x2="508.80" y2="364.50" stroke="#fbfbfb" stroke-width="1"/>
<line x1="306.00" y1="344.80" x2="508.80" y2="344.80" stroke="#fbfbfb" stroke-width="1"/>
<text x="292.40" y="446.70" font-size="10" textLength="5.26" lengthAdjust="spacingAndGlyphs" stroke="#000" stroke-width="0.3">0</text>
<text x="286.85" y="427.00" font-size="10" textLength="10.82" lengthAdjust="spacingAndGlyphs" stroke="#000" stroke-width="0.3">20</text>
<text x="286.85" y="407.30" font-size="10" textLength="10.82" lengthAdjust="spacingAndGlyphs" stroke="#000" stroke-width="0.3">40</text>
<text x="286.85" y="387.60" font-size="10" textLength="10.82" lengthAdjust="spacingAndGlyphs" stroke="#000" stroke-width="0.3">60</text>
<text x="286.85" y="367.90" font-size="10" textLength="10.82" lengthAdjust="spacingAndGlyphs" stroke="#000" stroke-width="0.3">80</text>
<text x="281.25" y="348.20" font-size="10" textLength="16.39" lengthAdjust="spacingAndGlyphs" stroke="#000" stroke-width="0.3">100</text>
<text x="281.25" y="328.50" font-size="10" textLength="16.39" lengthAdjust="spacingAndGlyphs" stroke="#000" stroke-width="0.3">120</text>
<text transform="translate(277.80 417.36) rotate(-90)" x="-0.00" y="0" font-size="9.8" textLength="65.97" lengthAdjust="spacingAndGlyphs" stroke="#000" stroke-width="0.29">% of Untreated</text>
<rect x="315.50" y="332.49" width="11.70" height="110.81" fill="#000"/>
<rect x="344.20" y="367.95" width="11.70" height="75.35" fill="#000"/>
<rect x="372.60" y="386.66" width="11.70" height="56.64" fill="#000"/>
<rect x="401.30" y="390.11" width="11.70" height="53.19" fill="#000"/>
<rect x="430.00" y="331.01" width="11.70" height="112.29" fill="#000"/>
<rect x="458.80" y="385.68" width="11.70" height="57.62" fill="#000"/>
<rect x="487.20" y="359.08" width="11.70" height="84.22" fill="#000"/>
<text x="307.64" y="459.30" font-size="9.2" textLength="26.46" lengthAdjust="spacingAndGlyphs" stroke="#000" stroke-width="0.28">0.1µM</text>
<text x="342.64" y="459.30" font-size="9.2" textLength="18.47" lengthAdjust="spacingAndGlyphs" stroke="#000" stroke-width="0.28">1µM</text>
<text x="370.14" y="459.30" font-size="9.2" textLength="17.97" lengthAdjust="spacingAndGlyphs" stroke="#000" stroke-width="0.28">3µM</text>
<text x="397.14" y="459.30" font-size="9.2" textLength="23.98" lengthAdjust="spacingAndGlyphs" stroke="#000" stroke-width="0.28">10µM</text>
<text x="427.14" y="459.30" font-size="9.2" textLength="25.96" lengthAdjust="spacingAndGlyphs" stroke="#000" stroke-width="0.28">2.5µM</text>
<text x="459.64" y="459.30" font-size="9.2" textLength="18.47" lengthAdjust="spacingAndGlyphs" stroke="#000" stroke-width="0.28">3µM</text>
<text x="487.14" y="459.30" font-size="9.2" textLength="18.22" lengthAdjust="spacingAndGlyphs" stroke="#000" stroke-width="0.28">3µM</text>
<text x="310.89" y="470.60" font-size="9.2" textLength="19.72" lengthAdjust="spacingAndGlyphs" stroke="#000" stroke-width="0.28">LDK</text>
<text x="343.89" y="470.60" font-size="9.2" textLength="18.97" lengthAdjust="spacingAndGlyphs" stroke="#000" stroke-width="0.28">LDK</text>
<text x="369.64" y="470.60" font-size="9.2" textLength="18.47" lengthAdjust="spacingAndGlyphs" stroke="#000" stroke-width="0.28">LDK</text>
<text x="397.14" y="470.60" font-size="9.2" textLength="18.47" lengthAdjust="spacingAndGlyphs" stroke="#000" stroke-width="0.28">LDK</text>
<text x="427.64" y="470.60" font-size="9.2" textLength="19.23" lengthAdjust="spacingAndGlyphs" stroke="#000" stroke-width="0.28">Imat</text>
<text x="458.14" y="470.60" font-size="9.2" textLength="18.72" lengthAdjust="spacingAndGlyphs" stroke="#000" stroke-width="0.28">LDK</text>
<text x="483.14" y="470.60" font-size="9.2" textLength="18.47" lengthAdjust="spacingAndGlyphs" stroke="#000" stroke-width="0.28">LDK</text>
<line x1="307.50" y1="473.40" x2="451.30" y2="473.40" stroke="#000" stroke-width="1.5"/>
<line x1="456.30" y1="473.40" x2="478.00" y2="473.40" stroke="#000" stroke-width="1.5"/>
<line x1="483.00" y1="473.40" x2="505.00" y2="473.40" stroke="#000" stroke-width="1.5"/>
<text x="294.44" y="487.50" font-size="9" textLength="39.71" lengthAdjust="spacingAndGlyphs" stroke="#000" stroke-width="0.27">Patient#:</text>
<text x="367.13" y="487.60" font-size="8.6" textLength="25.23" lengthAdjust="spacingAndGlyphs" stroke="#000" stroke-width="0.26">11-008</text>
<text x="454.63" y="487.60" font-size="8.6" textLength="25.23" lengthAdjust="spacingAndGlyphs" stroke="#000" stroke-width="0.26">11-018</text>
<text x="483.93" y="487.60" font-size="8.6" textLength="25.43" lengthAdjust="spacingAndGlyphs" stroke="#000" stroke-width="0.26">11-032</text>
<text x="2.90" y="499.00" font-size="13" textLength="9.38" lengthAdjust="spacingAndGlyphs" stroke="#000" stroke-width="0.39">G</text>
<text x="76.34" y="502.60" font-size="9.4" textLength="95.29" lengthAdjust="spacingAndGlyphs" stroke="#000" stroke-width="0.28">Normal Bone Marrow</text>
<text x="68.44" y="515.90" font-size="9.4" textLength="110.93" lengthAdjust="spacingAndGlyphs" stroke="#000" stroke-width="0.28">Mononuclear Cells (n=2)</text>
<rect x="40.00" y="525.50" width="177.50" height="113.70" fill="none" stroke="#f6f6f6" stroke-width="1"/>
<line x1="40.00" y1="620.20" x2="217.50" y2="620.20" stroke="#fafafa" stroke-width="1"/>
<line x1="40.00" y1="601.20" x2="217.50" y2="601.20" stroke="#fafafa" stroke-width="1"/>
<line x1="40.00" y1="582.20" x2="217.50" y2="582.20" stroke="#fafafa" stroke-width="1"/>
<line x1="40.00" y1="563.20" x2="217.50" y2="563.20" stroke="#fafafa" stroke-width="1"/>
<line x1="40.00" y1="544.20" x2="217.50" y2="544.20" stroke="#fafafa" stroke-width="1"/>
<text x="30.68" y="642.20" font-size="8" textLength="4.21" lengthAdjust="spacingAndGlyphs" stroke="#000" stroke-width="0.24">0</text>
<text x="26.24" y="623.20" font-size="8" textLength="8.66" lengthAdjust="spacingAndGlyphs" stroke="#000" stroke-width="0.24">20</text>
<text x="26.24" y="604.20" font-size="8" textLength="8.66" lengthAdjust="spacingAndGlyphs" stroke="#000" stroke-width="0.24">40</text>
<text x="26.24" y="585.20" font-size="8" textLength="8.66" lengthAdjust="spacingAndGlyphs" stroke="#000" stroke-width="0.24">60</text>
<text x="26.24" y="566.20" font-size="8" textLength="8.66" lengthAdjust="spacingAndGlyphs" stroke="#000" stroke-width="0.24">80</text>
<text x="21.76" y="547.20" font-size="8" textLength="13.11" lengthAdjust="spacingAndGlyphs" stroke="#000" stroke-width="0.24">100</text>
<text x="21.76" y="528.20" font-size="8" textLength="13.11" lengthAdjust="spacingAndGlyphs" stroke="#000" stroke-width="0.24">120</text>
<text transform="translate(17.6 630.5) rotate(-90)" x="0" y="0" font-size="9.3" textLength="97" lengthAdjust="spacingAndGlyphs" stroke="#000" stroke-width="0.2">#Colonies/10<tspan font-size="6" dy="-3.5">5</tspan><tspan dy="3.5"> Cells</tspan></text>
<rect x="52.50" y="548.00" width="14.30" height="91.20" fill="#000"/>
<rect x="87.60" y="540.40" width="14.30" height="98.80" fill="#000"/>
<rect x="122.80" y="541.83" width="14.30" height="97.38" fill="#000"/>
<rect x="158.20" y="541.63" width="14.30" height="97.56" fill="#000"/>
<rect x="193.30" y="611.94" width="14.30" height="27.26" fill="#000"/>
<text x="46.88" y="653.00" font-size="9" textLength="27.98" lengthAdjust="spacingAndGlyphs" stroke="#000" stroke-width="0.27">DMSO</text>
<text x="82.64" y="653.00" font-size="9" textLength="29.00" lengthAdjust="spacingAndGlyphs" stroke="#000" stroke-width="0.27">0.1 µM</text>
<text x="121.14" y="653.00" font-size="9" textLength="20.46" lengthAdjust="spacingAndGlyphs" stroke="#000" stroke-width="0.27">1 µM</text>
<text x="156.38" y="653.00" font-size="9" textLength="20.46" lengthAdjust="spacingAndGlyphs" stroke="#000" stroke-width="0.27">3 µM</text>
<text x="189.38" y="653.00" font-size="9" textLength="25.97" lengthAdjust="spacingAndGlyphs" stroke="#000" stroke-width="0.27">10 µM</text>
<text x="86.89" y="664.70" font-size="9" textLength="18.73" lengthAdjust="spacingAndGlyphs" stroke="#000" stroke-width="0.27">LDK</text>
<text x="125.14" y="664.70" font-size="9" textLength="18.48" lengthAdjust="spacingAndGlyphs" stroke="#000" stroke-width="0.27">LDK</text>
<text x="158.13" y="664.70" font-size="9" textLength="18.73" lengthAdjust="spacingAndGlyphs" stroke="#000" stroke-width="0.27">LDK</text>
<text x="191.38" y="664.70" font-size="9" textLength="18.48" lengthAdjust="spacingAndGlyphs" stroke="#000" stroke-width="0.27">LDK</text>
<text x="260.20" y="498.80" font-size="13.6" textLength="9.12" lengthAdjust="spacingAndGlyphs" stroke="#000" stroke-width="0.41">H</text>
<text x="341.80" y="512.60" font-size="7.9" style="font-family:'DejaVu Sans','Liberation Sans',sans-serif" textLength="72.00" lengthAdjust="spacingAndGlyphs" stroke="#000" stroke-width="0.2">CD34+ Viability</text>
<rect x="308.00" y="522.70" width="167.80" height="117.50" fill="#fff" stroke="#555" stroke-width="1"/>
<line x1="308.50" y1="620.67" x2="475.30" y2="620.67" stroke="#fbfbfb" stroke-width="1"/>
<line x1="308.50" y1="601.14" x2="475.30" y2="601.14" stroke="#fbfbfb" stroke-width="1"/>
<line x1="308.50" y1="581.61" x2="475.30" y2="581.61" stroke="#fbfbfb" stroke-width="1"/>
<line x1="308.50" y1="562.08" x2="475.30" y2="562.08" stroke="#fbfbfb" stroke-width="1"/>
<line x1="308.50" y1="542.55" x2="475.30" y2="542.55" stroke="#fbfbfb" stroke-width="1"/>
<text x="293.65" y="643.00" font-size="7.6" style="font-family:'DejaVu Sans','Liberation Sans',sans-serif" textLength="5.61" lengthAdjust="spacingAndGlyphs" stroke="#000" stroke-width="0.2">0</text>
<text x="288.05" y="623.47" font-size="7.6" style="font-family:'DejaVu Sans','Liberation Sans',sans-serif" textLength="11.21" lengthAdjust="spacingAndGlyphs" stroke="#000" stroke-width="0.2">20</text>
<text x="288.05" y="603.94" font-size="7.6" style="font-family:'DejaVu Sans','Liberation Sans',sans-serif" textLength="11.21" lengthAdjust="spacingAndGlyphs" stroke="#000" stroke-width="0.2">40</text>
<text x="288.05" y="584.41" font-size="7.6" style="font-family:'DejaVu Sans','Liberation Sans',sans-serif" textLength="11.21" lengthAdjust="spacingAndGlyphs" stroke="#000" stroke-width="0.2">60</text>
<text x="288.05" y="564.88" font-size="7.6" style="font-family:'DejaVu Sans','Liberation Sans',sans-serif" textLength="11.21" lengthAdjust="spacingAndGlyphs" stroke="#000" stroke-width="0.2">80</text>
<text x="282.45" y="545.35" font-size="7.6" style="font-family:'DejaVu Sans','Liberation Sans',sans-serif" textLength="16.82" lengthAdjust="spacingAndGlyphs" stroke="#000" stroke-width="0.2">100</text>
<text x="282.45" y="525.82" font-size="7.6" style="font-family:'DejaVu Sans','Liberation Sans',sans-serif" textLength="16.82" lengthAdjust="spacingAndGlyphs" stroke="#000" stroke-width="0.2">120</text>
<text transform="translate(279.40 616.09) rotate(-90)" x="-0.00" y="0" font-size="10.6" textLength="52.18" lengthAdjust="spacingAndGlyphs" stroke="#000" stroke-width="0.32">% of Vehicle</text>
<line x1="329.40" y1="528.88" x2="329.40" y2="537.18" stroke="#ebebeb" stroke-width="0.8"/>
<rect x="321.25" y="537.18" width="16.30" height="103.02" fill="#1a1a1a"/>
<line x1="371.40" y1="530.83" x2="371.40" y2="539.62" stroke="#ebebeb" stroke-width="0.8"/>
<rect x="363.25" y="539.62" width="16.30" height="100.58" fill="#1a1a1a"/>
<line x1="413.15" y1="558.66" x2="413.15" y2="572.33" stroke="#ebebeb" stroke-width="0.8"/>
<rect x="405.00" y="572.33" width="16.30" height="67.87" fill="#1a1a1a"/>
<line x1="455.05" y1="580.63" x2="455.05" y2="594.30" stroke="#ebebeb" stroke-width="0.8"/>
<rect x="446.90" y="594.30" width="16.30" height="45.90" fill="#1a1a1a"/>
<text x="318.38" y="655.00" font-size="9" textLength="20.21" lengthAdjust="spacingAndGlyphs" stroke="#000" stroke-width="0.27">1 µM</text>
<text x="318.88" y="666.20" font-size="9" textLength="18.48" lengthAdjust="spacingAndGlyphs" stroke="#000" stroke-width="0.27">LDK</text>
<text x="360.88" y="655.00" font-size="9" textLength="20.96" lengthAdjust="spacingAndGlyphs" stroke="#000" stroke-width="0.27">3 µM</text>
<text x="359.63" y="666.20" font-size="9" textLength="18.48" lengthAdjust="spacingAndGlyphs" stroke="#000" stroke-width="0.27">LDK</text>
<text x="401.38" y="655.00" font-size="9" textLength="26.47" lengthAdjust="spacingAndGlyphs" stroke="#000" stroke-width="0.27">10 µM</text>
<text x="403.13" y="666.20" font-size="9" textLength="18.73" lengthAdjust="spacingAndGlyphs" stroke="#000" stroke-width="0.27">LDK</text>
<text x="444.38" y="655.00" font-size="9" textLength="26.22" lengthAdjust="spacingAndGlyphs" stroke="#000" stroke-width="0.27">30 µM</text>
<text x="444.38" y="666.20" font-size="9" textLength="18.73" lengthAdjust="spacingAndGlyphs" stroke="#000" stroke-width="0.27">LDK</text>
</svg>
</body></html>
